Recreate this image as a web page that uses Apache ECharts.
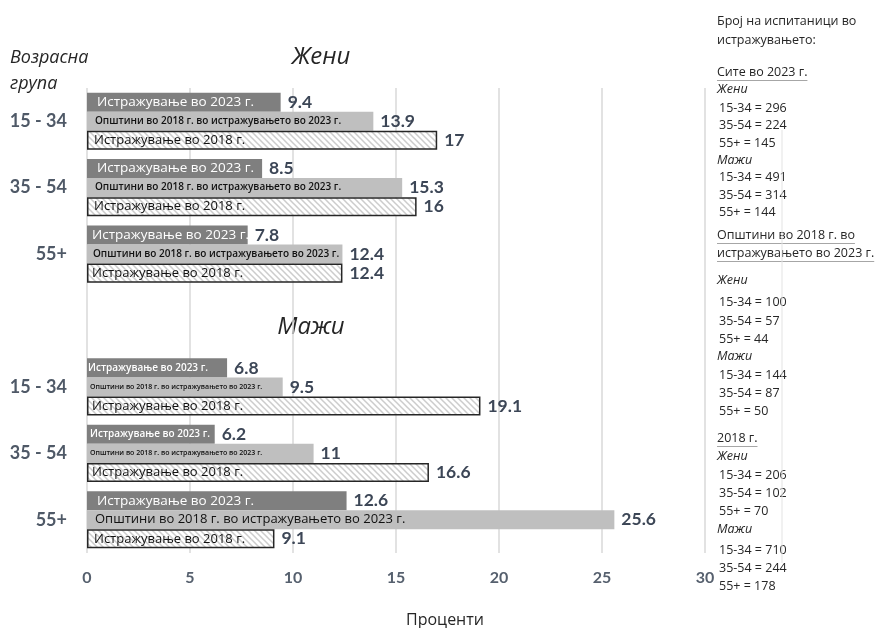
<!DOCTYPE html>
<html><head><meta charset="utf-8">
<script src="https://cdn.jsdelivr.net/npm/echarts@6/dist/echarts.min.js"></script>
<style>html,body{margin:0;padding:0;background:#fff}#chart{width:882px;height:628px}</style>
</head><body><div id="chart"></div>
<script>
// ---------- data ----------
const ageGroups = ['15 - 34', '35 - 54', '55+'];
const women2023 = [9.4, 8.5, 7.8];
const womenMunicipal = [13.9, 15.3, 12.4];
const women2018 = [17, 16, 12.4];
const men2023 = [6.8, 6.2, 12.6];
const menMunicipal = [9.5, 11, 25.6];
const men2018 = [19.1, 16.6, 9.1];
const seriesNames = ['Истражување во 2023 г.', 'Општини во 2018 г. во истражувањето во 2023 г.', 'Истражување во 2018 г.'];
const xTicks = [0, 5, 10, 15, 20, 25, 30];
const respAgeLabels = ['15-34', '35-54', '55+'];
const respAll2023Women = [296, 224, 145];
const respAll2023Men = [491, 314, 144];
const respMunWomen = [100, 57, 44];
const respMunMen = [144, 87, 50];
const resp2018Women = [206, 102, 70];
const resp2018Men = [710, 244, 178];

// ---------- build ----------
const categories = [...ageGroups, '', ...ageGroups];
const join = (w, m) => [...w, '-', ...m];
const seriesValues = [join(women2023, men2023), join(womenMunicipal, menMunicipal), join(women2018, men2018)];

// inner label styles (per bar)
const innerStyle = [
  { color: '#ffffff', size: [13.5, 13.5, 13.5, 0, 10, 10, 13.5], dist: [10, 10, 5, 0, 1, 3, 10], weight: [400, 400, 400, 0, 600, 600, 400] },
  { color: '#111111', size: [10, 10, 10, 0, 7, 7, 13], dist: [8, 8, 6, 0, 3, 3, 8], weight: [600, 600, 600, 0, 600, 600, 400] },
  { color: '#111111', size: [13, 13, 13, 0, 13, 13, 13], dist: [7, 7, 5, 0, 5, 5, 7], weight: [400, 400, 400, 0, 400, 400, 400] }
];

function hatch() {
  const c = document.createElement('canvas');
  c.width = c.height = 6;
  const g = c.getContext('2d');
  g.fillStyle = '#ffffff'; g.fillRect(0, 0, 6, 6);
  g.strokeStyle = '#cccccc'; g.lineWidth = 1.5;
  g.beginPath();
  g.moveTo(-1, -1); g.lineTo(7, 7);
  g.moveTo(-1, 5); g.lineTo(1, 7);
  g.moveTo(5, -1); g.lineTo(7, 1);
  g.stroke();
  return c;
}
const barColors = ['#7f7f7f', '#bfbfbf', { image: hatch(), repeat: 'repeat' }];

const series = [];
seriesValues.forEach((vals, si) => {
  series.push({
    type: 'bar', yAxisIndex: 0, name: seriesNames[si],
    data: vals,
    itemStyle: si === 2 ? { color: barColors[2], borderColor: '#262626', borderWidth: 1.5 } : { color: barColors[si] },
    label: { show: true, position: 'right', distance: 7, formatter: p => p.value,
      fontFamily: 'Lato', fontWeight: 'bold', fontSize: 17.5, color: '#3c4656' },
    emphasis: { disabled: true }, silent: true, animation: false
  });
});
seriesValues.forEach((vals, si) => {
  const st = innerStyle[si];
  series.push({
    type: 'bar', yAxisIndex: 1,
    data: vals.map((v, i) => v === '-' ? '-' : {
      value: v,
      label: { show: true, position: 'insideLeft', distance: st.dist[i], formatter: seriesNames[si],
        fontFamily: 'Open Sans', fontSize: st.size[i], fontWeight: st.weight[i], color: st.color }
    }),
    itemStyle: { color: 'rgba(0,0,0,0)' },
    emphasis: { disabled: true }, silent: true, animation: false, z: 5
  });
});

// ---------- right-side text ----------
const meas = document.createElement('canvas').getContext('2d');
function tw(text, font) { meas.font = font; return meas.measureText(text).width; }
const fNorm = '12.5px "Open Sans"';
const fIt = 'italic 12.5px "Open Sans"';
const graphics = [];
function addText(t, x, y, font, opts) {
  graphics.push({ type: 'text', x: x, y: y, silent: true,
    style: Object.assign({ text: t, font: font, fill: '#262626', align: 'left', verticalAlign: 'middle' }, opts || {}) });
}
function addUnder(t, x, y) {
  addText(t, x, y, fNorm);
  graphics.push({ type: 'line', silent: true, shape: { x1: x, y1: y + 8.5, x2: x + tw(t, fNorm), y2: y + 8.5 },
    style: { stroke: '#a6a6a6', lineWidth: 1 } });
}
const rx = 717;
addText('Број на испитаници во', rx, 21, fNorm);
addText('истражувањето:', rx, 40, fNorm);
addUnder('Сите во 2023 г.', rx, 72);
function block(yW, w, yM, m, ys1, ys2) {
  addText('Жени', rx, yW, fIt);
  w.forEach((v, i) => addText(respAgeLabels[i] + ' = ' + v, rx + 2, ys1[i], fNorm));
  addText('Мажи', rx, yM, fIt);
  m.forEach((v, i) => addText(respAgeLabels[i] + ' = ' + v, rx + 2, ys2[i], fNorm));
}
block(89, respAll2023Women, 160, respAll2023Men, [108, 125, 143], [177, 195, 212]);
addUnder('Општини во 2018 г. во', rx, 235);
addUnder('истражувањето во 2023 г.', rx, 253);
block(280, respMunWomen, 356, respMunMen, [302, 321, 339], [375, 393, 411]);
addUnder('2018 г.', rx, 438);
block(456, resp2018Women, 529, resp2018Men, [475, 493, 511], [550, 568, 586]);

graphics.push({ type: 'line', silent: true, shape: { x1: 782, y1: 130, x2: 782, y2: 563 }, style: { stroke: '#e3e3e3', lineWidth: 1 } });

// titles
addText('Жени', 321, 57, 'italic 24px "Open Sans"', { align: 'center' });
addText('Мажи', 311, 327, 'italic 24px "Open Sans"', { align: 'center' });
addText('Возрасна', 10, 58, 'italic 18px "Open Sans"');
addText('група', 10, 84, 'italic 18px "Open Sans"');
addText('Проценти', 445, 620, '16px "Open Sans"', { align: 'center' });

const chart = echarts.init(document.getElementById('chart'), null, { renderer: 'canvas' });
chart.setOption({
  backgroundColor: '#ffffff',
  animation: false,
  grid: { left: 87, right: 177, top: 88, bottom: 75, containLabel: false },
  xAxis: {
    type: 'value', min: xTicks[0], max: xTicks[xTicks.length - 1], interval: xTicks[1] - xTicks[0],
    axisLine: { show: false }, axisTick: { show: false },
    splitLine: { show: true, lineStyle: { color: '#d9d9d9', width: 1.5 } },
    axisLabel: { margin: 17, fontFamily: 'Lato', fontWeight: 'bold', fontSize: 16, color: '#56606e' }
  },
  yAxis: [
    { type: 'category', data: categories, inverse: true,
      axisLine: { show: false }, axisTick: { show: false }, splitLine: { show: false },
      axisLabel: { margin: 20, fontFamily: 'Lato', fontWeight: 'bold', fontSize: 18, color: '#4f5967' } },
    { type: 'category', data: categories, inverse: true, show: false }
  ],
  barCategoryGap: '14%',
  series: series.map(s => Object.assign(s, { barGap: '0%', barCategoryGap: '14%' })),
  graphic: graphics
});
</script>
</body></html>
